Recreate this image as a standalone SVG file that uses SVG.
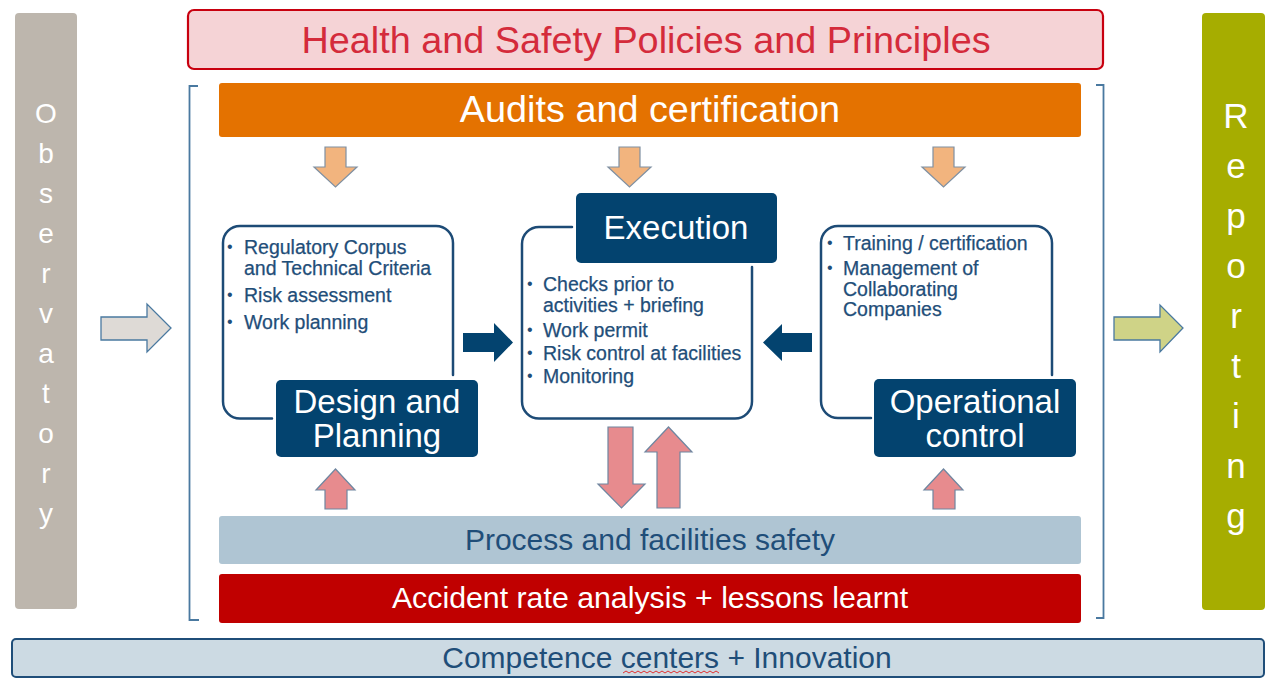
<svg xmlns="http://www.w3.org/2000/svg" width="1268" height="678" viewBox="0 0 1268 678">
<defs>
<style>
text{font-family:"Liberation Sans",Arial,sans-serif}
.side{fill:#ffffff;text-anchor:middle}
.lbl{fill:#ffffff;font-size:33px;text-anchor:middle}
.bul{fill:#1f4e79;font-size:19.5px;stroke:#1f4e79;stroke-width:0.25}
.dot{fill:#1f4e79;font-size:16px}
.outline{fill:none;stroke:#1d4b76;stroke-width:2.5;stroke-linecap:round}
.navyBox{fill:#03436f}
.orange{fill:#f2b47e;stroke:#7f90a2;stroke-width:1.2}
.pink{fill:#e78b8e;stroke:#6f86a0;stroke-width:1.2}
.navyArrow{fill:#03436f}
.bracket{fill:none;stroke:#4a79a0;stroke-width:1.8}
</style>
</defs>

<g id="observatory">
<rect x="15" y="13" width="62" height="596" rx="4" fill="#bdb6ad"/>
<g class="side" font-size="28">
<text x="46" y="123">O</text><text x="46" y="163">b</text><text x="46" y="203">s</text><text x="46" y="243">e</text><text x="46" y="283">r</text><text x="46" y="323">v</text><text x="46" y="363">a</text><text x="46" y="403">t</text><text x="46" y="443">o</text><text x="46" y="483">r</text><text x="46" y="523">y</text>
</g>
</g>

<g id="reporting">
<rect x="1202" y="13" width="63" height="597" rx="4" fill="#a6ad00"/>
<g class="side" font-size="35">
<text x="1236" y="128">R</text><text x="1236" y="178">e</text><text x="1236" y="228">p</text><text x="1236" y="278">o</text><text x="1236" y="328">r</text><text x="1236" y="378">t</text><text x="1236" y="428">i</text><text x="1236" y="478">n</text><text x="1236" y="528">g</text>
</g>
</g>

<g id="policies">
<rect x="188" y="10" width="915" height="59" rx="6" fill="#f5d3d6" stroke="#c8000f" stroke-width="2.2"/>
<text x="646" y="53" font-size="37.8" fill="#d42b3b" text-anchor="middle">Health and Safety Policies and Principles</text>
</g>

<g id="bracket">
<path class="bracket" d="M198,86 H189.5 V620 H199"/>
<path class="bracket" d="M1096,85 H1103.5 V618 H1096"/>
</g>

<g id="audits">
<rect x="219" y="83" width="862" height="54" rx="3" fill="#e47200"/>
<text x="650" y="122" font-size="37.8" fill="#ffffff" text-anchor="middle">Audits and certification</text>
</g>

<g id="design-planning">
<path class="outline" d="M272,418.5 H240 A17,17 0 0 1 223,401.5 V243 A17,17 0 0 1 240,226 H436 A17,17 0 0 1 453,243 V375"/>
<text class="dot" x="227" y="252">•</text>
<text class="bul" x="244" y="254">Regulatory Corpus</text>
<text class="bul" x="244" y="275">and Technical Criteria</text>
<text class="dot" x="227" y="300">•</text>
<text class="bul" x="244" y="302">Risk assessment</text>
<text class="dot" x="227" y="327">•</text>
<text class="bul" x="244" y="329">Work planning</text>
<rect class="navyBox" x="276" y="380" width="202" height="77" rx="5"/>
<text class="lbl" x="377" y="413">Design and</text>
<text class="lbl" x="377" y="447">Planning</text>
</g>

<g id="execution">
<path class="outline" d="M572,227 H539 A17,17 0 0 0 522,244 V401.5 A17,17 0 0 0 539,418.5 H735 A17,17 0 0 0 752,401.5 V267"/>
<rect class="navyBox" x="576" y="193" width="201" height="70" rx="5"/>
<text class="lbl" x="676" y="239">Execution</text>
<text class="dot" x="527" y="289">•</text>
<text class="bul" x="543" y="291">Checks prior to</text>
<text class="bul" x="543" y="312">activities + briefing</text>
<text class="dot" x="527" y="335">•</text>
<text class="bul" x="543" y="337">Work permit</text>
<text class="dot" x="527" y="358">•</text>
<text class="bul" x="543" y="360">Risk control at facilities</text>
<text class="dot" x="527" y="381">•</text>
<text class="bul" x="543" y="383">Monitoring</text>
</g>

<g id="operational-control">
<path class="outline" d="M871,418 H838 A17,17 0 0 1 821,401 V243 A17,17 0 0 1 838,226 H1035 A17,17 0 0 1 1052,243 V375"/>
<text class="dot" x="827" y="248">•</text>
<text class="bul" x="843" y="250">Training / certification</text>
<text class="dot" x="827" y="273">•</text>
<text class="bul" x="843" y="275">Management of</text>
<text class="bul" x="843" y="296">Collaborating</text>
<text class="bul" x="843" y="316">Companies</text>
<rect class="navyBox" x="874" y="379" width="202" height="78" rx="5"/>
<text class="lbl" x="975" y="413">Operational</text>
<text class="lbl" x="975" y="447">control</text>
</g>

<g id="process-safety">
<rect x="219" y="516" width="862" height="48" rx="3" fill="#afc5d3"/>
<text x="650" y="550" font-size="30" fill="#1f4e79" text-anchor="middle">Process and facilities safety</text>
</g>

<g id="accident-analysis">
<rect x="219" y="574" width="862" height="49" rx="3" fill="#c00000"/>
<text x="650" y="608" font-size="30.3" fill="#ffffff" text-anchor="middle">Accident rate analysis + lessons learnt</text>
</g>

<g id="competence">
<rect x="12" y="639" width="1252" height="38" rx="4" fill="#ccdae3" stroke="#1f4e79" stroke-width="2"/>
<text x="667" y="668" font-size="30" fill="#1f4e79" text-anchor="middle">Competence centers + Innovation</text>
<path d="M623,673 l3,-2 l3,2 l3,-2 l3,2 l3,-2 l3,2 l3,-2 l3,2 l3,-2 l3,2 l3,-2 l3,2 l3,-2 l3,2 l3,-2 l3,2 l3,-2 l3,2 l3,-2 l3,2 l3,-2 l3,2 l3,-2 l3,2 l3,-2 l3,2 l3,-2 l3,2 l3,-2 l3,2 l3,-2 l3,2" fill="none" stroke="#e03030" stroke-width="1"/>
</g>

<g id="connectors">
<path d="M101,317 H147 V304 L171,328 L147,352 V340 H101 Z" fill="#dedad6" stroke="#4a79a0" stroke-width="1.3"/>
<path d="M1114,317 H1160 V305 L1183,328 L1160,352 V340 H1114 Z" fill="#cfd387" stroke="#4a79a0" stroke-width="1.3"/>
<path class="orange" d="M325,147 H346 V167 H357 L335.5,187 L314,167 H325 Z"/>
<path class="orange" d="M619,147 H640 V167 H651 L629.5,187 L608,167 H619 Z"/>
<path class="orange" d="M933,147 H954 V167 H965 L943.5,187 L922,167 H933 Z"/>
<path class="navyArrow" d="M463,333 H494 V323 L513,342.5 L494,362 V352 H463 Z"/>
<path class="navyArrow" d="M812,333 H782 V324 L763,342.5 L782,361 V352 H812 Z"/>
<path class="pink" d="M325,509 V490 H316 L335.5,469 L355,490 H347 V509 Z"/>
<path class="pink" d="M933,509 V490 H924 L943.5,469 L963,490 H955 V509 Z"/>
<path class="pink" d="M608,427 H633 V484 H645 L621.5,508 L598,484 H608 Z"/>
<path class="pink" d="M657,508 V452 H645 L668.5,427 L692,452 H680 V508 Z"/>
</g>
</svg>
